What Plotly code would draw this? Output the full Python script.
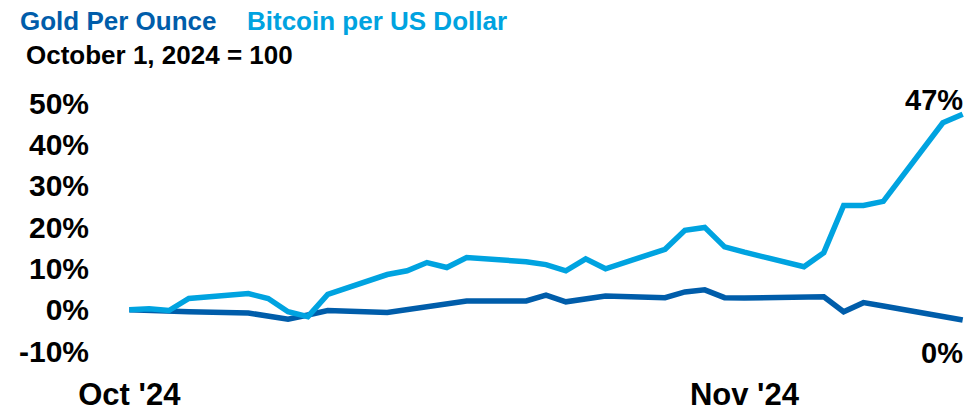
import pandas as pd
import plotly.graph_objects as go

dates = pd.to_datetime([
    "2024-10-01", "2024-10-02", "2024-10-03", "2024-10-04",
    "2024-10-07", "2024-10-08", "2024-10-09", "2024-10-10", "2024-10-11",
    "2024-10-14", "2024-10-15", "2024-10-16", "2024-10-17", "2024-10-18",
    "2024-10-21", "2024-10-22", "2024-10-23", "2024-10-24", "2024-10-25",
    "2024-10-28", "2024-10-29", "2024-10-30", "2024-10-31", "2024-11-01",
    "2024-11-04", "2024-11-05", "2024-11-06", "2024-11-07", "2024-11-08",
    "2024-11-11", "2024-11-12",
])

bitcoin = [0, 0.2, -0.2, 2.7,
           3.9, 2.7, -0.5, -1.7, 3.7,
           8.5, 9.4, 11.4, 10.2, 12.6,
           11.6, 10.9, 9.4, 12.3, 9.9,
           14.6, 19.2, 19.9, 15.2, 13.9,
           10.4, 13.8, 25.2, 25.2, 26.2,
           45.2, 47.3]

gold = [0, -0.2, -0.4, -0.5,
        -0.8, -1.7, -2.3, -1.3, -0.2,
        -0.7, 0, 0.5, 1.1, 2.1,
        2.1, 3.5, 1.9, 2.7, 3.3,
        2.9, 4.3, 4.8, 2.9, 2.8,
        2.9, 3.1, -0.5, 1.7, 0.9,
        -1.6, -2.5]

y_ticks = [-10, 0, 10, 20, 30, 40, 50]
x_ticks = ["2024-10-01", "2024-11-01"]
x_tick_labels = ["Oct '24", "Nov '24"]

gold_color = "#005DAA"
btc_color = "#00A3E0"
font = "Liberation Sans, Arial, sans-serif"

fig = go.Figure()
fig.add_trace(go.Scatter(x=dates, y=gold, mode="lines",
                         line=dict(color=gold_color, width=5.5), name="Gold Per Ounce"))
fig.add_trace(go.Scatter(x=dates, y=bitcoin, mode="lines",
                         line=dict(color=btc_color, width=5.5), name="Bitcoin per US Dollar"))

# plot area: x 126..966 px, y 103..355 px
def px_x(p):
    return (p - 126) / 840

def px_y(p):
    return (355 - p) / 252

titles = [
    ("Gold Per Ounce", gold_color, 18, 20, 26, "left"),
    ("Bitcoin per US Dollar", btc_color, 245, 20, 26, "left"),
    ("October 1, 2024 = 100", "black", 24, 54, 26, "left"),
    ("47%", "black", 965, 100, 29, "right"),
    ("0%", "black", 965, 357, 29, "right"),
]
for text, color, x, y, size, anchor in titles:
    fig.add_annotation(text=text, xref="paper", yref="paper", x=px_x(x), y=px_y(y),
                       xanchor=anchor, yanchor="middle", showarrow=False,
                       font=dict(family=font, size=size, color=color, weight="bold"))

fig.update_layout(
    width=967, height=413,
    margin=dict(l=126, r=1, t=103, b=58),
    paper_bgcolor="white", plot_bgcolor="white",
    showlegend=False,
    font=dict(family=font, color="black"),
)
fig.update_xaxes(
    range=[pd.Timestamp("2024-10-01") - pd.Timedelta(hours=4),
           pd.Timestamp("2024-11-12") + pd.Timedelta(hours=4)],
    tickvals=pd.to_datetime(x_ticks), ticktext=x_tick_labels,
    showgrid=False, zeroline=False, showline=False, ticks="",
    ticklabelstandoff=22,
    tickfont=dict(size=31, weight="bold", color="black"),
)
fig.update_yaxes(
    range=[-10, 50], tickvals=y_ticks, ticktext=[f"{v}%" for v in y_ticks],
    showgrid=False, zeroline=False, showline=False, ticks="",
    ticklabelstandoff=36,
    tickfont=dict(size=30, weight="bold", color="black"),
)

fig.write_html("out.html", config={"displayModeBar": False},
               post_script="document.body.style.margin='0';")
